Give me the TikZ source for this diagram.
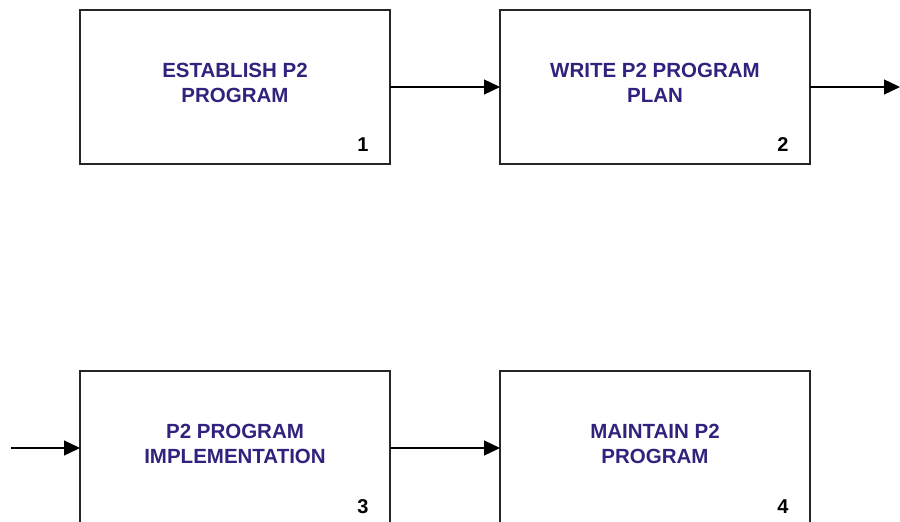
\documentclass[tikz,border=0pt]{standalone}
\usepackage{fontspec}
\setmainfont{Liberation Sans}
\newfontfamily\heavyfont{Liberation Sans Bold}
\usetikzlibrary{arrows.meta}
\definecolor{txtpurple}{RGB}{50,34,125}
\begin{document}
\begin{tikzpicture}[x=1bp,y=-1bp,
  procbox/.style={draw=black!85,line width=1.4bp,minimum width=310bp,minimum height=154bp,inner sep=0pt,outer sep=0pt,anchor=north west},
  boxtitle/.style={text=txtpurple,font=\heavyfont\fontsize{20.5bp}{25bp}\selectfont,align=center,inner sep=0pt},
  boxnum/.style={font=\heavyfont\fontsize{20bp}{24bp}\selectfont,anchor=base,inner sep=0pt},
  flow/.style={line width=1.3bp,-{Triangle[length=16bp,width=15bp]}}]
\useasboundingbox (0,0) rectangle (900,522);
\clip (0,0) rectangle (900,522);
\node[procbox] (b1) at (80,10) {};
\node[procbox] (b2) at (500,10) {};
\node[procbox] (b3) at (80,371) {};
\node[procbox] (b4) at (500,371) {};
\node[boxtitle] (t1) at (235,83) {ESTABLISH P2\\PROGRAM};
\node[boxtitle] (t2) at (655,83) {WRITE P2 PROGRAM\\PLAN};
\node[boxtitle] (t3) at (235,444) {P2 PROGRAM\\IMPLEMENTATION};
\node[boxtitle] (t4) at (655,444) {MAINTAIN P2\\PROGRAM};
\node[boxnum] (n1) at (363,152) {1};
\node[boxnum] (n2) at (783,152) {2};
\node[boxnum] (n3) at (363,513) {3};
\node[boxnum] (n4) at (783,513) {4};
\path (b2.east) ++(90,0) coordinate (outR);
\path (b3.west) ++(-69,0) coordinate (inL);
\draw[flow] (b1.east) -- (b2.west);
\draw[flow] (b2.east) -- (outR);
\draw[flow] (inL) -- (b3.west);
\draw[flow] (b3.east) -- (b4.west);
\end{tikzpicture}
\end{document}
